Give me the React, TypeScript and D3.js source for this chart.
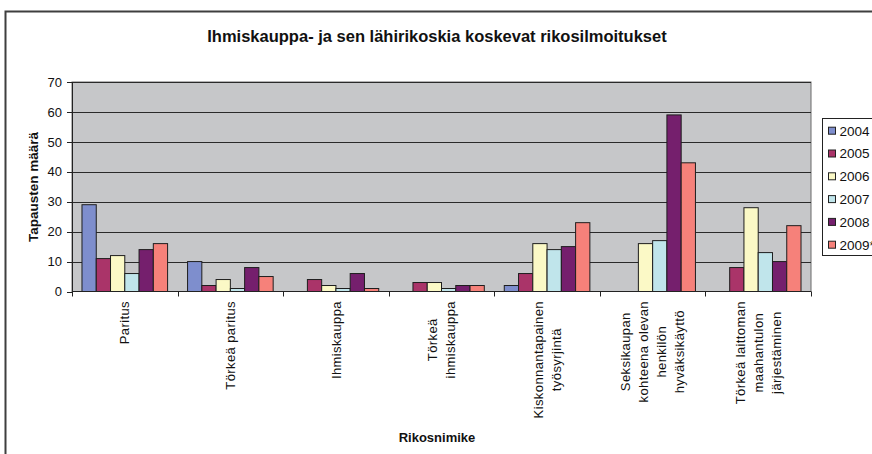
import React, { useEffect, useRef } from 'react';
import * as d3 from 'd3';

const categories: string[][] = [
  ['Paritus'],
  ['Törkeä paritus'],
  ['Ihmiskauppa'],
  ['Törkeä', 'ihmiskauppa'],
  ['Kiskonnantapainen', 'työsyrjintä'],
  ['Seksikaupan', 'kohteena olevan', 'henkilön', 'hyväksikäyttö'],
  ['Törkeä laittoman', 'maahantulon', 'järjestäminen'],
];
const years = ['2004', '2005', '2006', '2007', '2008', '2009*'];
const v2004 = [29, 10, 0, 0, 2, 0, 0];
const v2005 = [11, 2, 4, 3, 6, 0, 8];
const v2006 = [12, 4, 2, 3, 16, 16, 28];
const v2007 = [6, 1, 1, 1, 14, 17, 13];
const v2008 = [14, 8, 6, 2, 15, 59, 10];
const v2009 = [16, 5, 1, 2, 23, 43, 22];
const series = [v2004, v2005, v2006, v2007, v2008, v2009];
const yTicks = [0, 10, 20, 30, 40, 50, 60, 70];
const colors = ['#7E8ECD', '#AA3469', '#FBF9C6', '#C0E5EB', '#751F6D', '#F6817A'];

const title = 'Ihmiskauppa- ja sen lähirikoskia koskevat rikosilmoitukset';
const yTitle = 'Tapausten määrä';
const xTitle = 'Rikosnimike';

const FONT = '"Liberation Sans", Arial, sans-serif';

export default function App() {
  const ref = useRef<SVGSVGElement>(null);
  useEffect(() => {
    const svg = d3.select(ref.current);
    svg.selectAll('*').remove();
    const W = 872, H = 454;
    const left = 72, right = 811, top = 82, bottom = 291.5;

    svg.append('rect').attr('x', 0).attr('y', 0).attr('width', W).attr('height', H).attr('fill', '#fff');
    svg.append('rect').attr('x', 5.5).attr('y', 11.5).attr('width', 900).attr('height', 500)
      .attr('fill', 'none').attr('stroke', '#3f3f3f').attr('stroke-width', 2);

    const x0 = d3.scaleBand<number>().domain(categories.map((_, i) => i)).range([left, right]).padding(0);
    const x1 = d3.scaleBand<string>().domain(years).range([0, x0.bandwidth()]).paddingInner(0).paddingOuter(0.7);
    const y = d3.scaleLinear().domain([0, 70]).range([bottom, top]);

    // plot area
    svg.append('rect').attr('x', left).attr('y', top).attr('width', right - left).attr('height', bottom - top)
      .attr('fill', '#C6C7C9').attr('stroke', '#6a6a6a').attr('stroke-width', 1);

    // gridlines
    svg.append('g').selectAll('line').data(yTicks.filter(t => t > 0)).join('line')
      .attr('x1', left).attr('x2', right)
      .attr('y1', d => Math.round(y(d)) + 0.5).attr('y2', d => Math.round(y(d)) + 0.5)
      .attr('stroke', '#2a2a2a').attr('stroke-width', 1);

    // bars
    const g = svg.append('g');
    categories.forEach((_, ci) => {
      series.forEach((s, si) => {
        const v = s[ci];
        if (!v) return;
        const bx = (x0(ci) as number) + (x1(years[si]) as number);
        g.append('rect')
          .attr('x', bx).attr('y', y(v)).attr('width', x1.bandwidth()).attr('height', y(0) - y(v))
          .attr('fill', colors[si]).attr('stroke', '#1e1e1e').attr('stroke-width', 1);
      });
    });

    // axes
    svg.append('line').attr('x1', left + 0.5).attr('x2', left + 0.5).attr('y1', top).attr('y2', bottom)
      .attr('stroke', '#222');
    svg.append('line').attr('x1', left).attr('x2', right).attr('y1', bottom).attr('y2', bottom)
      .attr('stroke', '#222');
    svg.append('g').selectAll('line').data(yTicks).join('line')
      .attr('x1', left - 5).attr('x2', left)
      .attr('y1', d => Math.round(y(d)) + 0.5).attr('y2', d => Math.round(y(d)) + 0.5)
      .attr('stroke', '#222');
    svg.append('g').selectAll('text').data(yTicks).join('text')
      .attr('x', 62).attr('y', d => y(d)).attr('dy', '0.36em')
      .attr('text-anchor', 'end').attr('font-family', FONT).attr('font-size', 13).attr('fill', '#111')
      .text(d => String(d));

    const bounds = categories.map((_, i) => x0(i) as number).concat([right]);
    svg.append('g').selectAll('line').data(bounds).join('line')
      .attr('x1', d => Math.round(d) + 0.5).attr('x2', d => Math.round(d) + 0.5)
      .attr('y1', bottom).attr('y2', bottom + 5).attr('stroke', '#222');

    // category labels
    const fs = 13, pitch = 18, labelTop = 301;
    categories.forEach((lines, ci) => {
      const cx = (x0(ci) as number) + x0.bandwidth() / 2;
      const lg = svg.append('g').attr('transform', `translate(${cx},${labelTop}) rotate(-90)`);
      const n = lines.length;
      const texts = lines.map((ln, li) =>
        lg.append('text').attr('font-family', FONT).attr('font-size', fs).attr('letter-spacing', 0.4)
          .attr('fill', '#111').attr('text-anchor', 'middle')
          .attr('y', (li - (n - 1) / 2) * pitch + fs * 0.36).text(ln));
      const maxLen = d3.max(texts, t => (t.node() as SVGTextElement).getComputedTextLength()) || 0;
      texts.forEach(t => t.attr('x', -maxLen / 2));
    });

    // titles
    svg.append('text').attr('x', 437).attr('y', 42).attr('text-anchor', 'middle')
      .attr('font-family', FONT).attr('font-weight', 'bold').attr('font-size', 16.5).attr('fill', '#111').text(title);
    svg.append('text').attr('x', 437).attr('y', 441.5).attr('text-anchor', 'middle')
      .attr('font-family', FONT).attr('font-weight', 'bold').attr('font-size', 13).attr('fill', '#111').text(xTitle);
    svg.append('text').attr('transform', `translate(37.5,187) rotate(-90)`).attr('text-anchor', 'middle')
      .attr('font-family', FONT).attr('font-weight', 'bold').attr('font-size', 13.5).attr('fill', '#111').text(yTitle);

    // legend
    const lgd = svg.append('g');
    lgd.append('rect').attr('x', 822.5).attr('y', 118.5).attr('width', 80).attr('height', 137)
      .attr('fill', '#fff').attr('stroke', '#222');
    years.forEach((yr, i) => {
      const cy = 130.7 + i * 22.8;
      lgd.append('rect').attr('x', 828.5).attr('y', cy - 3.5).attr('width', 7).attr('height', 7)
        .attr('fill', colors[i]).attr('stroke', '#222');
      lgd.append('text').attr('x', 839.5).attr('y', cy).attr('dy', '0.36em')
        .attr('font-family', FONT).attr('font-size', 13.5).attr('fill', '#111').text(yr);
    });
  }, []);

  return (
    <div style={{ position: 'absolute', left: 0, top: 0, width: 872, height: 454, overflow: 'hidden' }}>
      <svg ref={ref} width={872} height={454} style={{ display: 'block' }} />
    </div>
  );
}
